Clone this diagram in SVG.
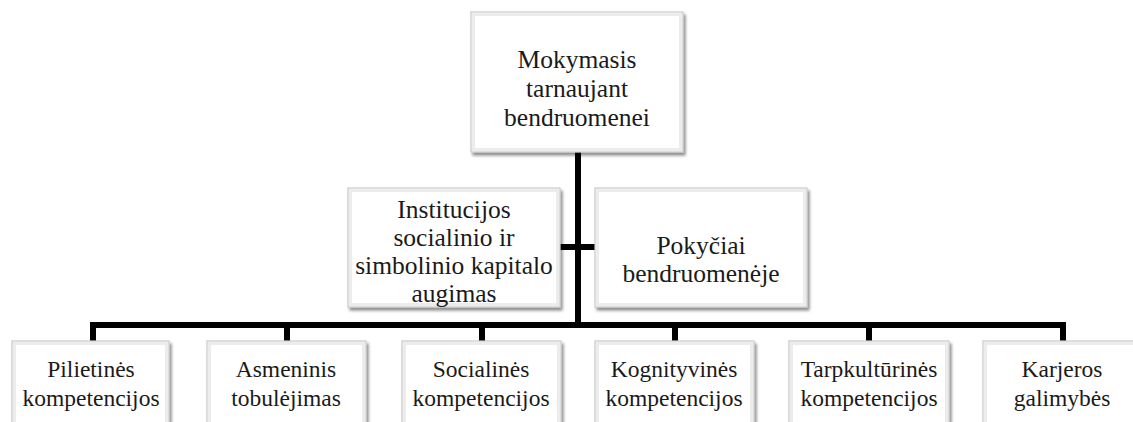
<svg xmlns="http://www.w3.org/2000/svg" width="1133" height="422" viewBox="0 0 1133 422">
  <defs>
    <filter id="shadow" x="-10%" y="-10%" width="125%" height="130%">
      <feGaussianBlur in="SourceAlpha" stdDeviation="1.8"/>
      <feOffset dx="2" dy="3" result="b"/>
      <feComponentTransfer><feFuncA type="linear" slope="0.45"/></feComponentTransfer>
      <feMerge><feMergeNode/><feMergeNode in="SourceGraphic"/></feMerge>
    </filter>
  </defs>
  <style>
    .box { fill: #ffffff; stroke: #c8c8c8; stroke-width: 1.2; filter: url(#shadow); }
    .inner { fill: none; stroke: #ececec; stroke-width: 3; }
    .t { fill: #1a1a1a; text-anchor: middle; }
    .big { font-size: 25.5px; }
    .small { font-size: 23.5px; }
    .conn { fill: none; stroke: #000000; stroke-width: 6; stroke-linejoin: miter; stroke-linecap: butt; }
  </style>
  <rect width="1133" height="422" fill="#ffffff"/>

  <g id="connectors">
    <path class="conn" d="M578 152 V325"/>
    <path class="conn" d="M560 247 H595"/>
    <path class="conn" d="M93 341 V325 H1063 V341"/>
    <path class="conn" d="M287 325 V341 M482 325 V341 M675 325 V341 M869 325 V341"/>
  </g>

  <g font-family="'Liberation Serif', 'Times New Roman', 'DejaVu Serif', serif">
  <g id="node-root">
    <rect class="box" x="471" y="12" width="212" height="140"/>
    <rect class="inner" x="473.5" y="14.5" width="207" height="135"/>
    <text class="t big" x="577" y="68">Mokymasis</text>
    <text class="t big" x="577" y="97">tarnaujant</text>
    <text class="t big" x="577" y="126">bendruomenei</text>
  </g>

  <g id="node-institucijos">
    <rect class="box" x="348" y="188" width="212" height="119"/>
    <rect class="inner" x="350.5" y="190.5" width="207" height="114"/>
    <text class="t big" x="454" y="218">Institucijos</text>
    <text class="t big" x="454" y="246">socialinio ir</text>
    <text class="t big" x="454" y="274">simbolinio kapitalo</text>
    <text class="t big" x="454" y="302">augimas</text>
  </g>

  <g id="node-pokyciai">
    <rect class="box" x="595" y="188" width="212" height="119"/>
    <rect class="inner" x="597.5" y="190.5" width="207" height="114"/>
    <text class="t big" x="701" y="254">Pokyčiai</text>
    <text class="t big" x="701" y="282">bendruomenėje</text>
  </g>

  <g id="node-pilietines">
    <rect class="box" x="12" y="341" width="157" height="90"/>
    <rect class="inner" x="14.5" y="343.5" width="152" height="85"/>
    <text class="t small" x="91" y="377">Pilietinės</text>
    <text class="t small" x="91" y="406">kompetencijos</text>
  </g>

  <g id="node-asmeninis">
    <rect class="box" x="207" y="341" width="159" height="90"/>
    <rect class="inner" x="209.5" y="343.5" width="154" height="85"/>
    <text class="t small" x="286" y="377">Asmeninis</text>
    <text class="t small" x="286" y="406">tobulėjimas</text>
  </g>

  <g id="node-socialines">
    <rect class="box" x="402" y="341" width="159" height="90"/>
    <rect class="inner" x="404.5" y="343.5" width="154" height="85"/>
    <text class="t small" x="481" y="377">Socialinės</text>
    <text class="t small" x="481" y="406">kompetencijos</text>
  </g>

  <g id="node-kognityvines">
    <rect class="box" x="595" y="341" width="159" height="90"/>
    <rect class="inner" x="597.5" y="343.5" width="154" height="85"/>
    <text class="t small" x="674" y="377">Kognityvinės</text>
    <text class="t small" x="674" y="406">kompetencijos</text>
  </g>

  <g id="node-tarpkulturines">
    <rect class="box" x="789" y="341" width="160" height="90"/>
    <rect class="inner" x="791.5" y="343.5" width="155" height="85"/>
    <text class="t small" x="869" y="377">Tarpkultūrinės</text>
    <text class="t small" x="869" y="406">kompetencijos</text>
  </g>

  <g id="node-karjeros">
    <rect class="box" x="983" y="341" width="159" height="90"/>
    <rect class="inner" x="985.5" y="343.5" width="154" height="85"/>
    <text class="t small" x="1062" y="377">Karjeros</text>
    <text class="t small" x="1062" y="406">galimybės</text>
  </g>
  </g>
</svg>
